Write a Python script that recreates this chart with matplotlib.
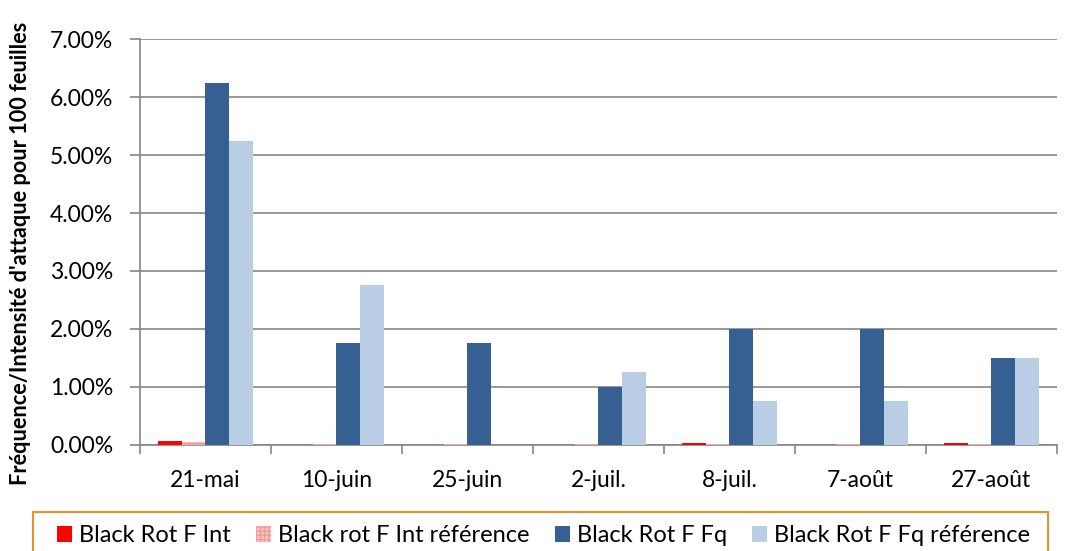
import numpy as np
import matplotlib.pyplot as plt
from matplotlib.patches import Rectangle
from matplotlib.ticker import FuncFormatter, FixedLocator

plt.rcParams['font.family'] = ['Lato', 'DejaVu Sans']

dates = ['21-mai', '10-juin', '25-juin', '2-juil.', '8-juil.', '7-août', '27-août']
int_vals = [0.0007, 0.0, 0.0, 0.0, 0.0004, 0.0, 0.0003]
int_ref = [0.0005, 0.0002, 0.0002, 0.0002, 0.0002, 0.0001, 0.0001]
fq_vals = [0.0625, 0.0175, 0.0175, 0.0100, 0.0200, 0.0200, 0.0150]
fq_ref = [0.0525, 0.0275, 0.0, 0.0125, 0.0075, 0.0075, 0.0150]

fig = plt.figure(figsize=(10.67, 5.51), dpi=100)
ax = fig.add_axes([0.1312, 0.1924, 0.8594, 0.7368])

x = np.arange(len(dates))
w = 1 / 5.5
ax.bar(x - 1.5 * w, int_vals, w, color='#FF0000', label='Black Rot F Int', zorder=3)
ax.bar(x - 0.5 * w, int_ref, w, color='#FBC4C4', edgecolor='#F59A9A', hatch='++++',
       linewidth=0, label='Black rot F Int référence', zorder=3)
ax.bar(x + 0.5 * w, fq_vals, w, color='#366092', label='Black Rot F Fq', zorder=3)
ax.bar(x + 1.5 * w, fq_ref, w, color='#B9CDE5', label='Black Rot F Fq référence', zorder=3)

ax.set_xlim(-0.5, len(dates) - 0.5)
ax.set_ylim(0, 0.07)
ax.set_yticks(np.arange(0, 0.0701, 0.01))
ax.yaxis.set_major_formatter(FuncFormatter(lambda v, p: '%.2f%%' % (v * 100)))
ax.set_xticks(x)
ax.set_xticklabels(dates)
ax.xaxis.set_minor_locator(FixedLocator(np.arange(-0.5, len(dates), 1.0)))
ax.tick_params(axis='x', which='major', length=0, labelsize=16.5, pad=18)
ax.tick_params(axis='x', which='minor', length=6.5, color='#868686', width=1.2)
ax.tick_params(axis='y', length=7.2, color='#868686', width=1.2, labelsize=16.5, pad=12)

ax.grid(axis='y', color='#868686', linewidth=1.2, zorder=0)
for s in ['top', 'right']:
    ax.spines[s].set_visible(False)
for s in ['left', 'bottom']:
    ax.spines[s].set_color('#868686')
    ax.spines[s].set_linewidth(1.2)

ax.set_ylabel("Fréquence/Intensité d'attaque pour 100 feuilles", fontsize=15.7,
              fontweight='bold')
ax.yaxis.set_label_coords(-0.119, 0.473)

# legend box (orange frame runs past the bottom edge)
fig.patches.append(Rectangle((33 / 1067, -0.1), (1048 - 33) / 1067, 0.1 + 39 / 551,
                             transform=fig.transFigure, fill=False,
                             edgecolor='#E8922E', linewidth=1.5))
leg = fig.legend(loc='center left', bbox_to_anchor=(57 / 1067, 1 - 536 / 551),
                 ncol=4, fontsize=17, frameon=False,
                 handlelength=0.65, handleheight=0.65, handletextpad=0.3,
                 borderaxespad=0, borderpad=0, columnspacing=1.05)

fig.savefig('out.png', dpi=100)
